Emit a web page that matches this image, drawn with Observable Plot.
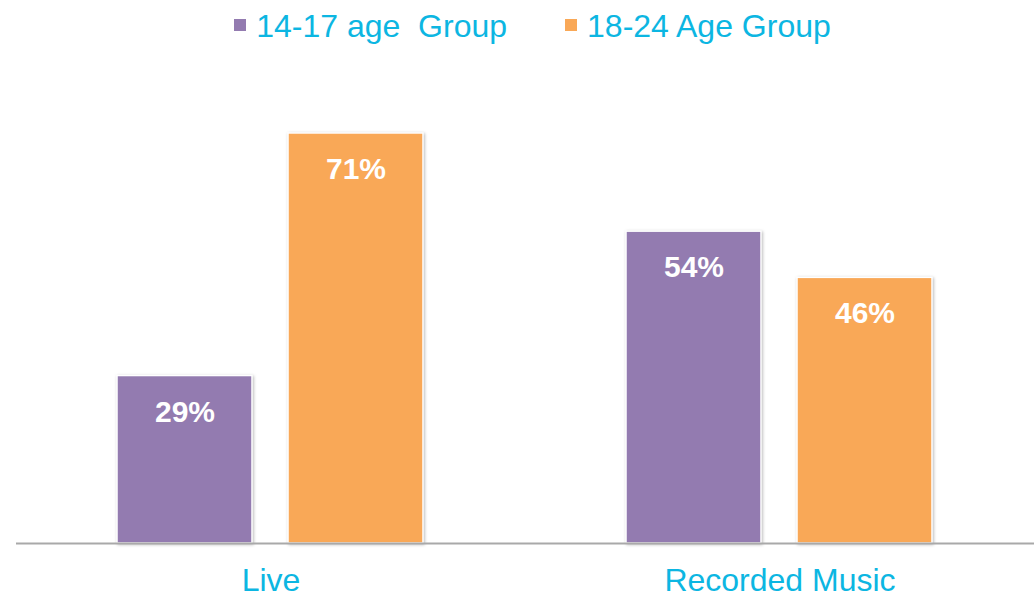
<!DOCTYPE html>
<html>
<head>
<meta charset="utf-8">
<script src="https://cdn.jsdelivr.net/npm/d3@7"></script>
<script src="https://cdn.jsdelivr.net/npm/@observablehq/plot@0.6"></script>
<style>
  html, body { margin: 0; padding: 0; background: #fff; }
  body { width: 1034px; height: 598px; overflow: hidden; font-family: Arial, "Liberation Sans", sans-serif; }
  #legend { height: 50px; display: flex; justify-content: center; align-items: center; padding-left: 31px; box-sizing: border-box; }
  .item { display: flex; align-items: center; white-space: pre; font-size: 32px; color: #0cb6e2; line-height: 46px; padding-top: 2px; }
  .item + .item { margin-left: 58px; }
  .sw { width: 12px; height: 12px; margin-right: 10px; margin-top: -2px; }
  #chart svg { display: block; }
  g[aria-label="bar"] rect { filter: drop-shadow(1px 1px 1.5px rgba(0,0,0,0.28)); }
</style>
</head>
<body>
<div id="legend"></div>
<div id="chart"></div>
<script>
const categories = ["Live", "Recorded Music"];
const series = ["14-17 age  Group", "18-24 Age Group"];
const values1417 = [29, 54];
const values1824 = [71, 46];
const colors = ["#937bb0", "#f9a857"];

const seriesValues = [values1417, values1824];
const data = categories.flatMap((c, i) =>
  series.map((s, j) => ({ category: c, group: s, value: seriesValues[j][i] }))
);

const legend = document.getElementById("legend");
series.forEach((s, j) => {
  const item = document.createElement("div");
  item.className = "item";
  const sw = document.createElement("span");
  sw.className = "sw";
  sw.style.background = colors[j];
  item.appendChild(sw);
  item.appendChild(document.createTextNode(s));
  legend.appendChild(item);
});

const chart = Plot.plot({
  width: 1034,
  height: 548,
  marginLeft: 15,
  marginRight: 0,
  marginTop: 31,
  marginBottom: 55,
  style: { fontFamily: "Arial, 'Liberation Sans', sans-serif", fontSize: "32px", color: "#0cb6e2", background: "white" },
  fx: { domain: categories, padding: 0, label: null, axis: "bottom", tickSize: 0, tickPadding: 25 },
  x: { domain: series, axis: null, paddingInner: 0.21, paddingOuter: 0.59 },
  y: { domain: [0, 80], axis: null },
  color: { domain: series, range: colors },
  marks: [
    Plot.barY(data, { fx: "category", x: "group", y: "value", fill: "group", stroke: "white", strokeWidth: 1.5 }),
    Plot.text(data, { fx: "category", x: "group", y: "value", text: d => d.value + "%", dy: 36, fill: "white", fontSize: 30, fontWeight: "bold" }),
    Plot.ruleY([0], { stroke: "#a9a9a9", strokeWidth: 2 })
  ]
});
document.getElementById("chart").appendChild(chart);
</script>
</body>
</html>
